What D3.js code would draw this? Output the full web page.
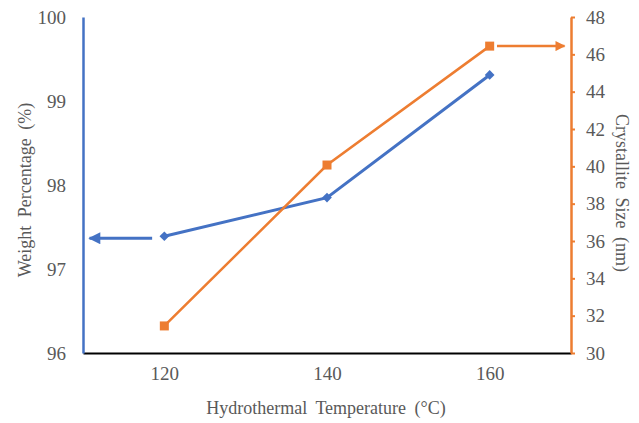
<!DOCTYPE html>
<html>
<head>
<meta charset="utf-8">
<script src="https://cdn.jsdelivr.net/npm/d3@7"></script>
</head>
<body style="margin:0">
<script>
// data
const temps = [120, 140, 160];
const weightPct = [97.39, 97.85, 99.31];
const crystSize = [31.45, 40.07, 46.44];
const xTicks = [120, 140, 160];
const leftTicks = [96, 97, 98, 99, 100];
const rightTicks = [30, 32, 34, 36, 38, 40, 42, 44, 46, 48];

const width = 639, height = 423;
const margin = {top: 17, right: 68, bottom: 70, left: 83};
const blue = "#4472C4", orange = "#ED7D31";
const serif = "'Liberation Serif', 'Times New Roman', serif";

const svg = d3.select("body").append("svg")
    .attr("width", width)
    .attr("height", height)
    .attr("font-family", serif);

const x = d3.scaleLinear().domain([110, 170]).range([margin.left, width - margin.right]);
const yL = d3.scaleLinear().domain([96, 100]).range([height - margin.bottom, margin.top]);
const yR = d3.scaleLinear().domain([30, 48]).range([height - margin.bottom, margin.top]);

svg.append("defs").selectAll("marker")
    .data([["arrBlue", blue], ["arrOrange", orange]])
    .enter().append("marker")
    .attr("id", d => d[0])
    .attr("viewBox", "0 0 10 10")
    .attr("refX", 9).attr("refY", 5)
    .attr("markerWidth", 4.5).attr("markerHeight", 4)
    .attr("orient", "auto")
    .append("path")
    .attr("d", "M0,0 L10,5 L0,10 z")
    .attr("fill", d => d[1]);

function styleTicks(g) {
    g.attr("font-family", serif).attr("font-size", 19);
    g.selectAll("text")
        .attr("fill", "#595959")
        .attr("font-family", serif)
        .style("font-family", serif);
}

// bottom axis (no ticks)
const xAxis = svg.append("g")
    .attr("transform", `translate(0,${height - margin.bottom})`)
    .call(d3.axisBottom(x).tickValues(xTicks).tickSize(0).tickPadding(14))
    .call(styleTicks);
xAxis.select(".domain").attr("stroke", "#000").attr("stroke-width", 2);

// left axis
const lAxis = svg.append("g")
    .attr("transform", `translate(${margin.left},0)`)
    .call(d3.axisLeft(yL).tickValues(leftTicks).tickFormat(d3.format("d")).tickSize(0).tickPadding(17))
    .call(styleTicks);
lAxis.select(".domain").attr("stroke", blue).attr("stroke-width", 2.5);

// right axis
const rAxis = svg.append("g")
    .attr("transform", `translate(${width - margin.right},0)`)
    .call(d3.axisRight(yR).tickValues(rightTicks).tickSizeInner(4).tickSizeOuter(0).tickPadding(11))
    .call(styleTicks);
rAxis.select(".domain").attr("stroke", orange).attr("stroke-width", 2.5);
rAxis.selectAll("line").attr("stroke", orange).attr("stroke-width", 2);

// lines
const lineL = d3.line().x((d, i) => x(temps[i])).y(d => yL(d));
const lineR = d3.line().x((d, i) => x(temps[i])).y(d => yR(d));

svg.append("path").datum(weightPct)
    .attr("d", lineL).attr("fill", "none")
    .attr("stroke", blue).attr("stroke-width", 3);
svg.append("path").datum(crystSize)
    .attr("d", lineR).attr("fill", "none")
    .attr("stroke", orange).attr("stroke-width", 2.5);

// markers
svg.selectAll(".dia").data(weightPct).enter().append("path")
    .attr("d", d3.symbol(d3.symbolDiamond2, 60))
    .attr("transform", (d, i) => `translate(${x(temps[i])},${yL(d)})`)
    .attr("fill", blue);
svg.selectAll(".sq").data(crystSize).enter().append("rect")
    .attr("x", (d, i) => x(temps[i]) - 4.5)
    .attr("y", d => yR(d) - 4.5)
    .attr("width", 9).attr("height", 9)
    .attr("fill", orange);

// arrows pointing to each series' axis
svg.append("line")
    .attr("x1", x(118.5)).attr("x2", x(110.8))
    .attr("y1", yL(weightPct[0]) + 2).attr("y2", yL(weightPct[0]) + 2)
    .attr("stroke", blue).attr("stroke-width", 3)
    .attr("marker-end", "url(#arrBlue)");
svg.append("line")
    .attr("x1", x(160.9)).attr("x2", x(169.2))
    .attr("y1", yR(crystSize[2])).attr("y2", yR(crystSize[2]))
    .attr("stroke", orange).attr("stroke-width", 2.5)
    .attr("marker-end", "url(#arrOrange)");

// axis titles
function title(sel, txt) {
    sel.attr("text-anchor", "middle")
        .attr("fill", "#595959")
        .attr("font-family", serif)
        .style("font-family", serif)
        .style("font-size", "18px")
        .style("word-spacing", "4px")
        .text(txt);
}

svg.append("text")
    .attr("x", 326)
    .attr("y", 414)
    .call(title, "Hydrothermal Temperature (\u00B0C)");

svg.append("text")
    .attr("transform", "translate(31,190) rotate(-90)")
    .call(title, "Weight Percentage (%)");

svg.append("text")
    .attr("transform", "translate(616,193) rotate(90)")
    .call(title, "Crystallite Size (nm)");
</script>
</body>
</html>
